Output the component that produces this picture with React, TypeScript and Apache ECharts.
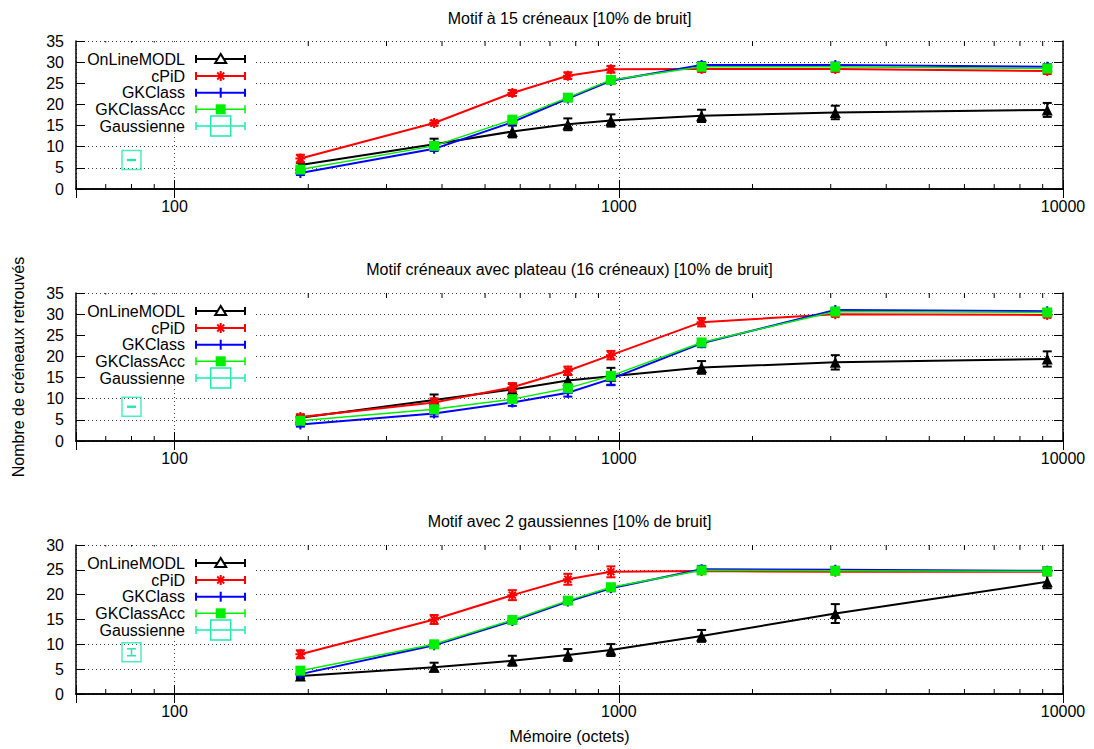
import React, { useEffect, useRef } from "react";
import * as echarts from "echarts";

// ---------- data ----------
const memory = [192, 384, 576, 768, 960, 1536, 3072, 9216];
const minorTicks = [70, 80, 90, 200, 300, 400, 500, 600, 700, 800, 900, 2000, 3000, 4000, 5000, 6000, 7000, 8000, 9000];
const majorLabels = [100, 1000, 10000];
const seriesNames = ["OnLineMODL", "cPiD", "GKClass", "GKClassAcc", "Gaussienne"];
const panelTitles = [
  "Motif à 15 créneaux [10% de bruit]",
  "Motif créneaux avec plateau (16 créneaux) [10% de bruit]",
  "Motif avec 2 gaussiennes [10% de bruit]",
];
const yMaxes = [35, 35, 30];
const gaussMemory = 80;

// panel 1
const p1OnLine = [5.7, 10.6, 13.6, 15.3, 16.2, 17.3, 18.1, 18.7];
const p1OnLineErr = [0.5, 1.3, 1.4, 1.4, 1.45, 1.45, 1.6, 1.65];
const p1Cpid = [7.2, 15.6, 22.7, 26.8, 28.3, 28.4, 28.4, 27.9];
const p1CpidErr = [0.9, 0.6, 0.7, 0.8, 0.8, 0.7, 0.7, 0.7];
const p1GK = [3.8, 9.5, 15.8, 21.4, 25.6, 29.3, 29.3, 28.9];
const p1GKErr = [0.5, 0.5, 0.5, 0.5, 0.6, 0.7, 0.6, 0.6];
const p1GKAcc = [4.6, 10.2, 16.4, 21.6, 25.8, 28.9, 28.9, 28.5];
const p1GKAccErr = [0.5, 0.5, 0.5, 0.5, 0.6, 0.6, 0.6, 0.6];
const p1Gauss = 6.85;
const p1GaussErr = 0.1;

// panel 2
const p2OnLine = [5.5, 9.7, 12.2, 14.3, 15.3, 17.4, 18.6, 19.4];
const p2OnLineErr = [0.5, 1.3, 1.3, 1.3, 2.0, 1.5, 1.7, 1.8];
const p2Cpid = [5.7, 9.1, 12.7, 16.6, 20.3, 28.1, 30.0, 29.8];
const p2CpidErr = [0.6, 1.0, 1.0, 1.0, 1.0, 1.0, 0.6, 0.6];
const p2GK = [3.9, 6.5, 9.1, 11.4, 14.7, 23.1, 31.0, 30.7];
const p2GKErr = [0.5, 0.7, 0.8, 0.9, 1.5, 0.9, 0.5, 0.5];
const p2GKAcc = [4.8, 7.5, 9.9, 12.5, 15.4, 23.3, 30.6, 30.4];
const p2GKAccErr = [0.5, 0.6, 0.6, 0.7, 0.8, 0.8, 0.6, 0.6];
const p2Gauss = 8.1;
const p2GaussErr = 0.1;

// panel 3
const p3OnLine = [3.6, 5.4, 6.7, 7.85, 8.85, 11.7, 16.2, 22.6];
const p3OnLineErr = [0.4, 0.9, 1.0, 1.2, 1.2, 1.2, 1.9, 1.3];
const p3Cpid = [8.0, 15.0, 19.9, 23.1, 24.6, 24.75, 24.6, 24.6];
const p3CpidErr = [0.8, 0.9, 1.0, 1.1, 1.1, 0.6, 0.4, 0.4];
const p3GK = [4.0, 9.8, 14.7, 18.6, 21.3, 25.1, 25.0, 24.8];
const p3GKErr = [0.4, 0.5, 0.5, 0.5, 0.6, 0.7, 0.6, 0.7];
const p3GKAcc = [4.7, 10.0, 14.9, 18.8, 21.5, 24.9, 24.8, 24.7];
const p3GKAccErr = [0.4, 0.5, 0.5, 0.5, 0.5, 0.5, 0.5, 0.5];
const p3Gauss = 8.4;
const p3GaussErr = 0.7;

const panels = [
  { values: [p1OnLine, p1Cpid, p1GK, p1GKAcc], errs: [p1OnLineErr, p1CpidErr, p1GKErr, p1GKAccErr], gauss: p1Gauss, gaussErr: p1GaussErr },
  { values: [p2OnLine, p2Cpid, p2GK, p2GKAcc], errs: [p2OnLineErr, p2CpidErr, p2GKErr, p2GKAccErr], gauss: p2Gauss, gaussErr: p2GaussErr },
  { values: [p3OnLine, p3Cpid, p3GK, p3GKAcc], errs: [p3OnLineErr, p3CpidErr, p3GKErr, p3GKAccErr], gauss: p3Gauss, gaussErr: p3GaussErr },
];

// ---------- styles ----------
const FONT = "'Liberation Sans', Arial, Helvetica, sans-serif";
const GAUSS_COLOR = "#20e8b0";
const ASTERISK = "path://M5,0L5,10M0,5L10,5M1.5,1.5L8.5,8.5M1.5,8.5L8.5,1.5";
const PLUS = "path://M5,0L5,10M0,5L10,5";
const styles = [
  { color: "#000000", symbol: "triangle", size: 11, lw: 2, border: 0 },
  { color: "#ff0000", symbol: ASTERISK, size: 10, lw: 2, border: 2 },
  { color: "#0000ff", symbol: PLUS, size: 10, lw: 2, border: 2 },
  { color: "#00ee00", symbol: "rect", size: 10, lw: 1.5, border: 0 },
];

const GRID_LEFT = 76;
const GRID_WIDTH = 987;
const gridTops = [41, 293, 545];
const gridHeights = [148, 148, 149];
const titleYs = [18, 269, 521];

function errorBarRender(color: string, lw: number) {
  return (params: any, api: any) => {
    const x = api.value(0);
    const lo = api.value(1);
    const hi = api.value(2);
    const a = api.coord([x, hi]);
    const b = api.coord([x, lo]);
    const w = 4.5;
    const st = { stroke: color, lineWidth: lw };
    return {
      type: "group",
      children: [
        { type: "line", shape: { x1: a[0], y1: a[1], x2: b[0], y2: b[1] }, style: st },
        { type: "line", shape: { x1: a[0] - w, y1: a[1], x2: a[0] + w, y2: a[1] }, style: st },
        { type: "line", shape: { x1: b[0] - w, y1: b[1], x2: b[0] + w, y2: b[1] }, style: st },
      ],
    };
  };
}

function legendGraphics(top: number) {
  const els: any[] = [];
  els.push({
    type: "rect",
    z: 5,
    shape: { x: 86, y: top + 1.5, width: 168, height: 91 },
    style: { fill: "#ffffff" },
  });
  const rows = [18, 35, 51.7, 68.3, 85];
  const x1 = 196;
  const x2 = 245;
  const cx = 220.7;
  seriesNames.forEach((name, i) => {
    const y = top + rows[i];
    const color = i < 4 ? styles[i].color : GAUSS_COLOR;
    const lw = i < 4 ? styles[i].lw : 1.5;
    els.push({
      type: "text",
      z: 6,
      x: 185,
      y,
      style: { text: name, align: "right", verticalAlign: "middle", font: `16px ${FONT}`, fill: "#000" },
    });
    const st = { stroke: color, lineWidth: lw };
    els.push({ type: "line", z: 6, shape: { x1, y1: y, x2, y2: y }, style: st });
    els.push({ type: "line", z: 6, shape: { x1, y1: y - 4, x2: x1, y2: y + 4 }, style: st });
    els.push({ type: "line", z: 6, shape: { x1: x2, y1: y - 4, x2, y2: y + 4 }, style: st });
    if (i === 0) {
      els.push({
        type: "polygon",
        z: 7,
        shape: { points: [[cx, y - 5], [cx - 5.5, y + 4], [cx + 5.5, y + 4]] },
        style: { fill: "#fff", stroke: "#000", lineWidth: 2 },
      });
    } else if (i === 1) {
      const s = { stroke: color, lineWidth: 2 };
      els.push({ type: "line", z: 7, shape: { x1: cx, y1: y - 5, x2: cx, y2: y + 5 }, style: s });
      els.push({ type: "line", z: 7, shape: { x1: cx - 3.5, y1: y - 3.5, x2: cx + 3.5, y2: y + 3.5 }, style: s });
      els.push({ type: "line", z: 7, shape: { x1: cx - 3.5, y1: y + 3.5, x2: cx + 3.5, y2: y - 3.5 }, style: s });
    } else if (i === 2) {
      els.push({ type: "line", z: 7, shape: { x1: cx, y1: y - 5, x2: cx, y2: y + 5 }, style: { stroke: color, lineWidth: 2 } });
    } else if (i === 3) {
      els.push({ type: "rect", z: 7, shape: { x: cx - 5, y: y - 5, width: 10, height: 10 }, style: { fill: color } });
    } else {
      els.push({
        type: "rect",
        z: 7,
        shape: { x: cx - 10, y: y - 10, width: 20, height: 20 },
        style: { fill: "none", stroke: color, lineWidth: 1.5 },
      });
    }
  });
  return els;
}

function buildOption() {
  const grid: any[] = [];
  const xAxis: any[] = [];
  const yAxis: any[] = [];
  const series: any[] = [];
  const graphic: any[] = [];

  panels.forEach((panel, p) => {
    const yMax = yMaxes[p];
    grid.push({ left: GRID_LEFT, top: gridTops[p], width: GRID_WIDTH, height: gridHeights[p] });
    const axisLine = { show: true, lineStyle: { color: "#000", width: 1.5 } };
    const tick = { show: true, inside: true, length: 9, lineStyle: { color: "#000", width: 1 } };
    xAxis.push({
      type: "log",
      logBase: 10,
      min: 60,
      max: 10000,
      gridIndex: p,
      position: "bottom",
      axisLine,
      axisTick: tick,
      axisLabel: {
        fontSize: 16,
        fontFamily: FONT,
        color: "#000",
        margin: 9,
        formatter: (v: number) => {
          const m = majorLabels.find((l) => Math.abs(l - v) < l * 1e-6);
          return m !== undefined ? String(m) : "";
        },
      },
      splitLine: { show: true, lineStyle: { color: "#444", width: 1, type: [1, 3] } },
      ...(p === 2
        ? {
            name: "Mémoire (octets)",
            nameLocation: "middle",
            nameGap: 34,
            nameTextStyle: { fontSize: 16, fontFamily: FONT, color: "#000" },
          }
        : {}),
    });
    xAxis.push({
      type: "log",
      logBase: 10,
      min: 60,
      max: 10000,
      gridIndex: p,
      position: "top",
      axisLine,
      axisTick: tick,
      axisLabel: { show: false },
      splitLine: { show: false },
    });
    yAxis.push({
      type: "value",
      min: 0,
      max: yMax,
      interval: 5,
      gridIndex: p,
      position: "left",
      axisLine,
      axisTick: tick,
      axisLabel: { fontSize: 16, fontFamily: FONT, color: "#000", margin: 12 },
      splitLine: { show: true, lineStyle: { color: "#444", width: 1, type: [1, 3] } },
    });
    yAxis.push({
      type: "value",
      min: 0,
      max: yMax,
      interval: 5,
      gridIndex: p,
      position: "right",
      axisLine,
      axisTick: tick,
      axisLabel: { show: false },
      splitLine: { show: false },
    });

    const xi = 2 * p;
    const yi = 2 * p;

    // minor x ticks (bottom and top)
    series.push({
      type: "custom",
      xAxisIndex: xi,
      yAxisIndex: yi,
      silent: true,
      clip: false,
      z: 1,
      data: minorTicks.map((v) => [v, 0]),
      encode: { x: 0, y: 1 },
      renderItem: (params: any, api: any) => {
        const v = api.value(0);
        const b = api.coord([v, 0]);
        const t = api.coord([v, yMax]);
        const st = { stroke: "#000", lineWidth: 1 };
        return {
          type: "group",
          children: [
            { type: "line", shape: { x1: b[0], y1: b[1], x2: b[0], y2: b[1] - 5 }, style: st },
            { type: "line", shape: { x1: t[0], y1: t[1], x2: t[0], y2: t[1] + 5 }, style: st },
          ],
        };
      },
    });

    panel.values.forEach((vals, s) => {
      const st = styles[s];
      const errs = panel.errs[s];
      series.push({
        type: "custom",
        name: seriesNames[s],
        xAxisIndex: xi,
        yAxisIndex: yi,
        silent: true,
        z: 3 + s,
        data: memory.map((m, k) => [m, vals[k] - errs[k], vals[k] + errs[k]]),
        encode: { x: 0, y: [1, 2] },
        renderItem: errorBarRender(st.color, st.lw),
      });
      series.push({
        type: "line",
        name: seriesNames[s],
        xAxisIndex: xi,
        yAxisIndex: yi,
        z: 3 + s,
        data: memory.map((m, k) => [m, vals[k]]),
        symbol: st.symbol,
        symbolSize: st.size,
        showAllSymbol: true,
        lineStyle: { color: st.color, width: st.lw },
        itemStyle: {
          color: st.border ? "none" : st.color,
          borderColor: st.color,
          borderWidth: st.border,
        },
      });
    });

    // Gaussienne
    series.push({
      type: "custom",
      name: "Gaussienne",
      xAxisIndex: xi,
      yAxisIndex: yi,
      silent: true,
      z: 8,
      data: [[gaussMemory, panel.gauss - panel.gaussErr, panel.gauss + panel.gaussErr]],
      encode: { x: 0, y: [1, 2] },
      renderItem: errorBarRender(GAUSS_COLOR, 1.5),
    });
    series.push({
      type: "scatter",
      name: "Gaussienne",
      xAxisIndex: xi,
      yAxisIndex: yi,
      z: 8,
      data: [[gaussMemory, panel.gauss]],
      symbol: "rect",
      symbolSize: 19,
      itemStyle: { color: "none", borderColor: GAUSS_COLOR, borderWidth: 1.5 },
    });

    graphic.push({
      type: "text",
      x: GRID_LEFT + GRID_WIDTH / 2,
      y: titleYs[p],
      style: { text: panelTitles[p], align: "center", verticalAlign: "middle", font: `16px ${FONT}`, fill: "#000" },
    });
    graphic.push(...legendGraphics(gridTops[p]));
  });

  graphic.push({
    type: "text",
    x: 18,
    y: 367,
    rotation: Math.PI / 2,
    style: {
      text: "Nombre de créneaux retrouvés",
      align: "center",
      verticalAlign: "middle",
      font: `16px ${FONT}`,
      fill: "#000",
    },
  });

  return {
    animation: false,
    backgroundColor: "#ffffff",
    grid,
    xAxis,
    yAxis,
    series,
    graphic,
  };
}

export default function App() {
  const ref = useRef<HTMLDivElement>(null);
  useEffect(() => {
    if (!ref.current) return;
    const chart = echarts.init(ref.current, undefined, { renderer: "svg" });
    chart.setOption(buildOption() as any);
    return () => chart.dispose();
  }, []);
  return (
    <div
      ref={ref}
      style={{ position: "absolute", left: 0, top: 0, width: 1094, height: 749, background: "#fff" }}
    />
  );
}
